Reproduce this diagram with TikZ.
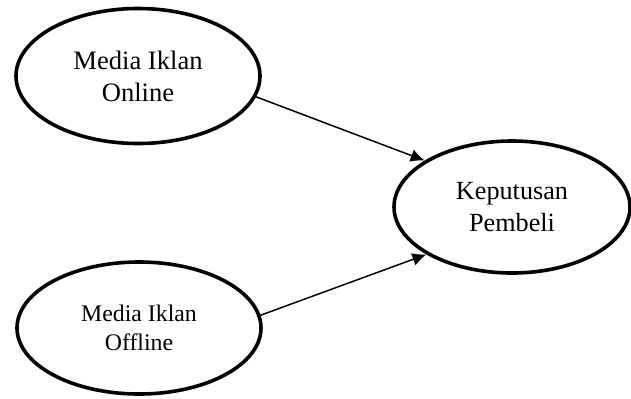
\documentclass[tikz,border=0pt]{standalone}
\usepackage{fontspec}
\setmainfont{Liberation Serif}
\usetikzlibrary{shapes.geometric, arrows.meta}

\begin{document}
\begin{tikzpicture}[> = {Latex[length = 7pt, width = 6.5pt]}, x = 0.5pt, y = -0.5pt,
	varnode/.style = {ellipse, draw, line width = 1.8pt, inner sep = 0pt, align = center}]

	\useasboundingbox (0, 0) rectangle (631, 398);

	% Variables

	\node [varnode, minimum width = 122pt, minimum height = 67.5pt, font = \fontsize{13.3}{16}\selectfont] (online) at (138, 76) {Media Iklan\\Online};
	\node [varnode, minimum width = 122pt, minimum height = 66pt, font = \fontsize{11.9}{14.5}\selectfont] (offline) at (139, 328) {Media Iklan\\Offline};
	\node [varnode, minimum width = 118pt, minimum height = 66pt, font = \fontsize{13.1}{16}\selectfont] (keputusan) at (512, 207) {Keputusan\\Pembeli};

	% Arrows

	\begin{scope}[->, line width = 0.75pt]

		\draw (online.-10) -- (keputusan.152);
		\draw (offline.6) -- (keputusan.-151);

	\end{scope}

\end{tikzpicture}
\end{document}
